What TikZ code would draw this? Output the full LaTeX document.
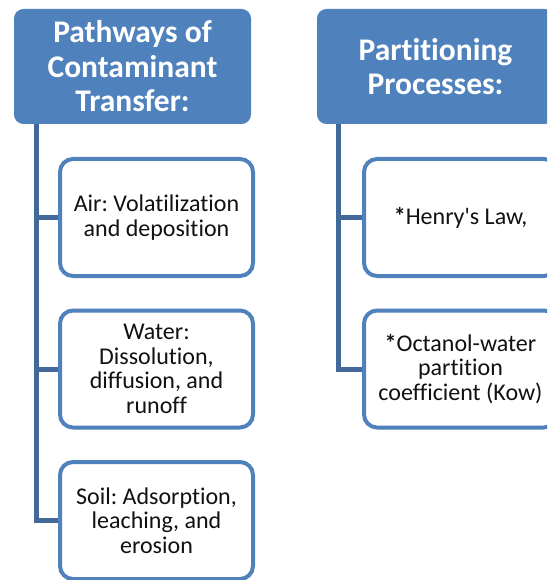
\documentclass[tikz,border=0pt]{standalone}
\usepackage{fontspec}
\setmainfont{Carlito}[Ligatures={NoCommon}]
\usepackage{tikz}
\usetikzlibrary{
  positioning,
  calc
}
\frenchspacing
\definecolor{ptBlue}{HTML}{4F81BD}
\definecolor{ptLine}{HTML}{41699A}
\definecolor{ptText}{HTML}{111111}
\tikzset{
  ptbase/.style={
    rounded corners=9pt, align=center, inner sep=0pt
  },
  header/.style={ptbase, fill=ptBlue, draw=ptBlue, line width=1pt,
    minimum width=236pt, minimum height=114pt, text=white,
    font=\fontsize{31.5}{34.5}\selectfont\bfseries},
  leaf/.style={ptbase, rounded corners=13pt, fill=white, draw=ptBlue, line width=4pt,
    minimum width=193pt, minimum height=117pt, text=ptText,
    font=\fontsize{24}{24.5}\selectfont},
  tree/.style={draw=ptLine, line width=5pt}
}
\begin{document}
\begin{tikzpicture}[x=1pt, y=-1pt]
  \useasboundingbox (0,0) rectangle (547,580);
  \clip (0,0) rectangle (547,580);
  \node[header] (pathways) at (132.5,66.5) {Pathways of\\Contaminant\\Transfer:};
  \node[header] (partition) at (435.5,66.5) {Partitioning\\Processes:};
  \node[leaf] (air) at (156.5,217.5) {Air: Volatilization\\and deposition};
  \node[leaf] (water) at (156.5,369) {Water:\\Dissolution,\\diffusion, and\\runoff};
  \node[leaf] (soil) at (156.5,520.5) {Soil: Adsorption,\\leaching, and\\erosion};
  \node[leaf] (henry) at (460.5,217.5) {\textbf{*}Henry\textquotesingle s Law,};
  \node[leaf] (kow) at (460.5,369) {\textbf{*}Octanol-water\\partition\\coefficient (Kow)};
  \draw[tree] ($(pathways.south west)+(22,0)$) |- (air.west);
  \draw[tree] ($(pathways.south west)+(22,0)$) |- (water.west);
  \draw[tree] ($(pathways.south west)+(22,0)$) |- (soil.west);
  \draw[tree] ($(partition.south west)+(21,0)$) |- (henry.west);
  \draw[tree] ($(partition.south west)+(21,0)$) |- (kow.west);
\end{tikzpicture}
\end{document}
